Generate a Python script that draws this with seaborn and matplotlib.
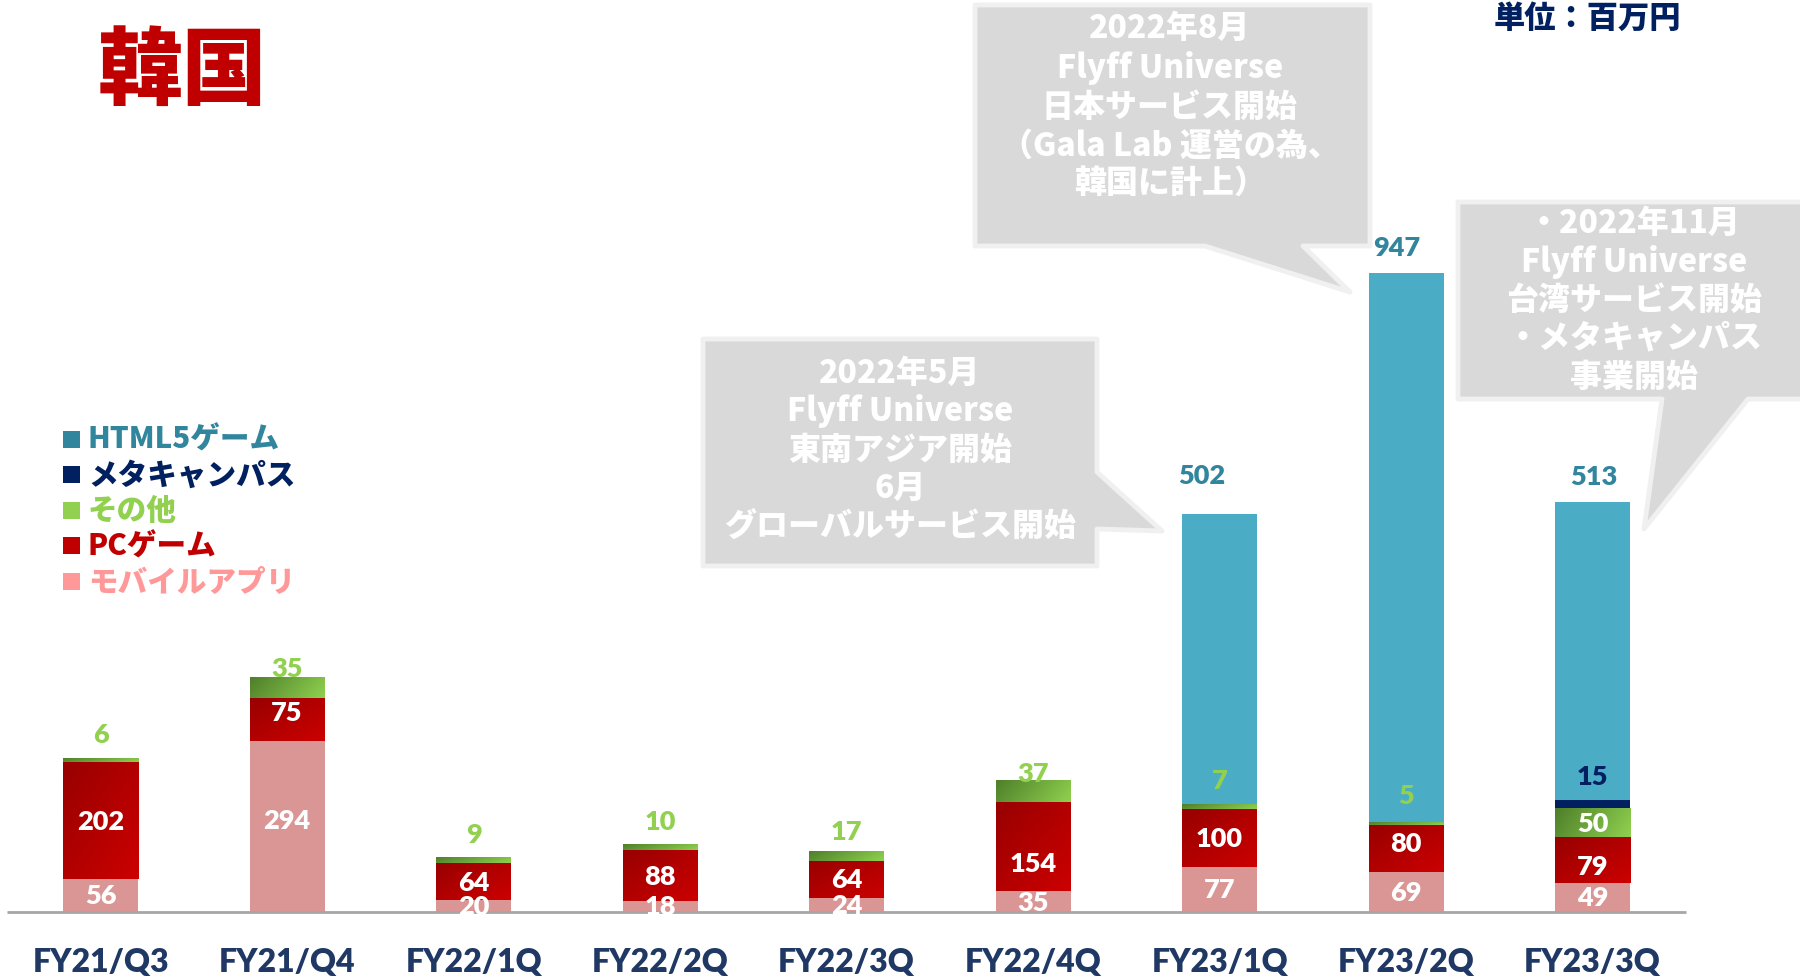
import numpy as np
import pandas as pd
import matplotlib
matplotlib.use("Agg")
import matplotlib.pyplot as plt
import seaborn as sns
from matplotlib.patches import Polygon, Rectangle
from matplotlib.transforms import Affine2D
from matplotlib.colors import to_rgb

# ---------------- data ----------------
categories = ["FY21/Q3", "FY21/Q4", "FY22/1Q", "FY22/2Q", "FY22/3Q",
              "FY22/4Q", "FY23/1Q", "FY23/2Q", "FY23/3Q"]
mobile = [56, 294, 20, 18, 24, 35, 77, 69, 49]      # モバイルアプリ
pc = [202, 75, 64, 88, 64, 154, 100, 80, 79]         # PCゲーム
other = [6, 35, 9, 10, 17, 37, 7, 5, 50]             # その他
meta = [0, 0, 0, 0, 0, 0, 0, 0, 15]                  # メタキャンパス
html5 = [0, 0, 0, 0, 0, 0, 502, 947, 513]            # HTML5ゲーム

legend_labels = ["HTML5ゲーム", "メタキャンパス", "その他", "PCゲーム", "モバイルアプリ"]
title_text = "韓国"
unit_text = "単位：百万円"
callout_texts = [
    ["2022年5月", "Flyff Universe", "東南アジア開始", "6月", "グローバルサービス開始"],
    ["2022年8月", "Flyff Universe", "日本サービス開始", "（Gala Lab 運営の為、", "韓国に計上）"],
    ["・2022年11月", "Flyff Universe", "台湾サービス開始", "・メタキャンパス", "事業開始"],
]

# ---------------- style ----------------
sns.set_theme(style="white")
plt.rcParams["font.family"] = ["Noto Sans CJK JP", "DejaVu Sans"]

W, H = 1800, 978
base_px = 912.7          # pixel row of the baseline
px_per_unit = 0.5797     # vertical pixels per million yen
x0_px, step_px = 100.6, 186.5

fig = plt.figure(figsize=(W / 100, H / 100), dpi=100)
fig.patch.set_facecolor("white")
ax = fig.add_axes([0, (H - base_px) / H, 1, base_px / H])

series = [mobile, pc, other, meta, html5]
colors = ["#DA9694", "#C00000", "#92D050", "#002060", "#4BACC6"]
cum = np.cumsum(np.array(series, dtype=float), axis=0)
bar_w = 75 / step_px

layer_patches = {}
for k in reversed(range(len(series))):
    n_before = len(ax.patches)
    sns.barplot(x=categories, y=cum[k], order=categories, color=colors[k],
                saturation=1, width=bar_w, errorbar=None, linewidth=0,
                edgecolor="none", ax=ax, zorder=2)
    layer_patches[k] = ax.patches[n_before:]


def gradient_fill(x0, x1, y0, y1, c0, c1, wu, wv):
    n = 64
    u = np.linspace(0, 1, n)
    U, V = np.meshgrid(u, u)
    t = np.clip(wu * U + wv * (1 - V), 0, 1)
    a, b = np.array(to_rgb(c0)), np.array(to_rgb(c1))
    rgb = a[None, None, :] * (1 - t[..., None]) + b[None, None, :] * t[..., None]
    ax.imshow(rgb, extent=(x0, x1, y0, y1), origin="lower", aspect="auto",
              interpolation="bilinear", zorder=3)


# gradients on PC (layer 1) and other (layer 2)
grad_spec = {1: ("#980000", "#CC0000", 0.5, 0.5), 2: ("#4F7F2A", "#8FD14F", 0.8, 0.2)}
for k, (c0, c1, wu, wv) in grad_spec.items():
    for i, p in enumerate(layer_patches[k]):
        lo = cum[k - 1][i]
        hi = cum[k][i]
        if hi - lo <= 0:
            continue
        gradient_fill(p.get_x(), p.get_x() + p.get_width(), lo, hi, c0, c1, wu, wv)

ax.set_xlim(-x0_px / step_px, (W - x0_px) / step_px)
ax.set_ylim(0, base_px / px_per_unit)
for s in ax.spines.values():
    s.set_visible(False)
ax.set_yticks([])
ax.hlines(0, -0.5, len(categories) - 0.5, color="#A6A6A6", lw=2, zorder=4,
          clip_on=False)
ax.set_xticks(range(len(categories)))
ax.set_xticklabels(categories, fontfamily="Lato", fontweight="heavy",
                   fontsize=23, color="#1F3864")
ax.tick_params(axis="x", length=0, pad=25.5)
ax.set_xlabel("")
ax.set_ylabel("")

# ---------------- value labels ----------------
lbl = dict(fontfamily="Lato", fontweight="heavy", fontsize=19.5, ha="center",
           va="center", zorder=6)
dy = lambda px: px / px_per_unit
dx = lambda px: px / step_px

mobile_dy_px = [0, 6, 0, 0, 0, 0, 0, 0, 0]
pc_dy_px = [0, 8, 0, 0, 0, -16, 0, 6, -6]
for i in range(len(categories)):
    ax.text(i, cum[0][i] / 2 + dy(mobile_dy_px[i]), str(mobile[i]), color="white", **lbl)
    ax.text(i, (cum[0][i] + cum[1][i]) / 2 + dy(pc_dy_px[i]), str(pc[i]),
            color="white", **lbl)

green_dy_px = [25, 9.5, 24, 23.5, 20, 8, 25, 27, None]
for i in range(len(categories)):
    if green_dy_px[i] is None:
        ax.text(i, (cum[1][i] + cum[2][i]) / 2, str(other[i]), color="white", **lbl)
    else:
        ax.text(i, cum[2][i] + dy(green_dy_px[i]), str(other[i]), color="#92D050", **lbl)

for i in range(len(categories)):
    if meta[i] > 0:
        ax.text(i, cum[3][i] + dy(24), str(meta[i]), color="#002060", **lbl)

html_dy_px = [0, 0, 0, 0, 0, 0, 39, 26, 26]
html_dx_px = [0, 0, 0, 0, 0, 0, -18, -9, 1]
for i in range(len(categories)):
    if html5[i] > 0:
        ax.text(i + dx(html_dx_px[i]), cum[4][i] + dy(html_dy_px[i]), str(html5[i]),
                color="#31859C", **lbl)

# ---------------- decorations in pixel space ----------------
px = Affine2D().scale(1 / W, -1 / H).translate(0, 1) + fig.transFigure


def ftext(x, y, s, **kw):
    fig.text(x / W, 1 - y / H, s, **kw)


ftext(182, 73, title_text, fontsize=61, fontweight="heavy", color="#C00000",
      ha="center", va="center")
ftext(1587, 18, unit_text, fontsize=22.5, fontweight="heavy", color="#002060",
      ha="center", va="center")

legend_colors = ["#31859C", "#002060", "#92D050", "#C00000", "#FF9999"]
for j, (lab, c) in enumerate(zip(legend_labels, legend_colors)):
    yc = 440 + 35.5 * j
    fig.add_artist(Rectangle((63, yc - 8.5), 17, 17, transform=px,
                             facecolor=c, edgecolor="none"))
    ftext(88, yc, lab, fontsize=21.3, fontweight="heavy", color=c,
          ha="left", va="center")

callout_polys = [
    [(703, 340), (1097, 340), (1097, 473), (1162, 532), (1097, 530), (1097, 567), (703, 567)],
    [(975, 6), (1370, 6), (1370, 247), (1303, 247), (1350, 293), (1205, 247), (975, 247)],
    [(1458, 203), (1815, 203), (1815, 400), (1748, 400), (1644, 530), (1662, 400), (1458, 400)],
]
callout_centers = [900, 1170, 1634]
callout_lines_y = [
    [373, 411, 450, 488, 526],
    [28, 68, 107, 146, 184],
    [223, 262, 300, 338, 377],
]
for poly, cx, ys, lines in zip(callout_polys, callout_centers, callout_lines_y, callout_texts):
    fig.add_artist(Polygon(poly, closed=True, transform=px, facecolor="#D9D9D9",
                           edgecolor="#F0F0F0", lw=3.5, joinstyle="round", zorder=5))
    for yv, s in zip(ys, lines):
        ftext(cx, yv, s, fontsize=23, fontweight="heavy", color="white",
              ha="center", va="center", zorder=7)

fig.savefig("out.png", dpi=100, facecolor="white")
